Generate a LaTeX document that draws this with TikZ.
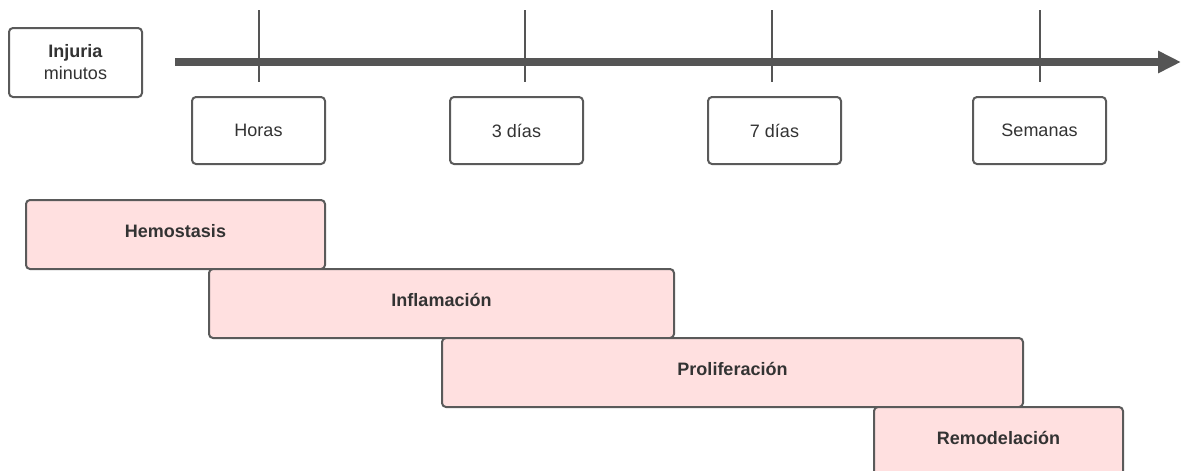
\documentclass[tikz,border=0pt]{standalone}
\usepackage{fontspec}
\setmainfont{Liberation Sans}
\usetikzlibrary{arrows.meta}
\definecolor{edge}{HTML}{5A5A5A}
\definecolor{axisc}{HTML}{555555}
\definecolor{pinkfill}{HTML}{FFE0E0}
\definecolor{txt}{HTML}{333333}
\tikzset{
  box/.style={draw=edge, line width=2pt, rounded corners=4pt, fill=white,
    anchor=north west, inner sep=0pt, text=txt,
    font=\fontsize{18}{22}\selectfont},
  timebox/.style={box, minimum width=133pt, minimum height=67pt},
  phase/.style={box, fill=pinkfill, minimum height=69pt,
    text height=13pt, text depth=8pt,
    font=\fontsize{18}{22}\selectfont\bfseries, text=txt},
  tick/.style={draw=axisc, line width=2pt},
  axisline/.style={draw=axisc, line width=7.5pt, -{Triangle[length=23pt,width=21pt]}}
}
\begin{document}
\begin{tikzpicture}[x=1pt,y=-1pt]
\useasboundingbox (0,0) rectangle (1181,471);
\clip (0,0) rectangle (1181,471);
\fill[white] (0,0) rectangle (1181,471);
% injury box
\node[box, minimum width=133pt, minimum height=69pt, align=center] (inj) at (8,27)
  {\textbf{Injuria}\\minutos};
% axis
\coordinate (a0) at (175,62);
\coordinate (a1) at (1181,62);
\draw[axisline] (a0) -- (a1);
% ticks
\foreach \x/\n in {259/t1,525/t2,772/t3,1040/t4}{
  \coordinate (\n top) at (\x,10);
  \coordinate (\n bot) at (\x,82);
  \draw[tick] (\n top) -- (\n bot);
}
% time boxes
\node[timebox] (horas) at (191,96) {Horas};
\node[timebox] (d3) at (449,96) {3 días};
\node[timebox] (d7) at (707,96) {7 días};
\node[timebox] (sem) at (972,96) {Semanas};
% phases
\node[phase, minimum width=299pt] (hem) at (25,199) {Hemostasis};
\node[phase, minimum width=465pt] (inf) at (208,268) {Inflamación};
\node[phase, minimum width=581pt] (pro) at (441,337) {Proliferación};
\node[phase, minimum width=249pt] (rem) at (873,406) {Remodelación};
\end{tikzpicture}
\end{document}
